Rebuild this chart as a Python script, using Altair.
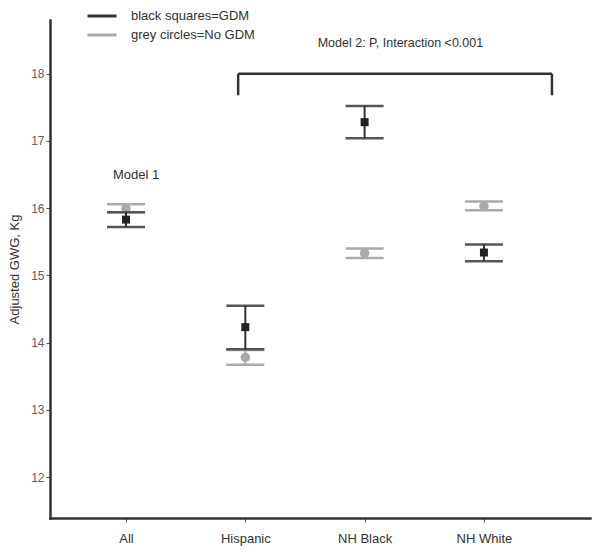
import altair as alt
import pandas as pd

categories = ["All", "Hispanic", "NH Black", "NH White"]
positions = [1, 2, 3, 4]
gdm_mean = [15.83, 14.23, 17.28, 15.34]
gdm_lo = [15.72, 13.90, 17.04, 15.21]
gdm_hi = [15.94, 14.55, 17.52, 15.46]
nogdm_mean = [16.00, 13.78, 15.33, 16.03]
nogdm_lo = [15.94, 13.67, 15.26, 15.97]
nogdm_hi = [16.06, 13.89, 15.40, 16.10]
series = ["black squares=GDM", "grey circles=No GDM"]
y_ticks = [12, 13, 14, 15, 16, 17, 18]
bracket_x = [1.94, 4.57]
bracket_y = [17.68, 18.0]
model1_text = ["Model 1"]
model1_pos = [0.89, 16.49]
model2_text = ["Model 2: P, Interaction <0.001"]
model2_pos = [3.30, 18.46]

FONT = "Liberation Sans"

gdm = pd.DataFrame({"pos": positions, "cat": categories, "mean": gdm_mean,
                    "lo": gdm_lo, "hi": gdm_hi, "series": series[0]})
nog = pd.DataFrame({"pos": positions, "cat": categories, "mean": nogdm_mean,
                    "lo": nogdm_lo, "hi": nogdm_hi, "series": series[1]})

label_expr = "[" + ",".join("'%s'" % c for c in categories) + "][datum.value-1]"
xscale = alt.Scale(domain=[0.363, 4.889], nice=False, zero=False)
yscale = alt.Scale(domain=[11.39, 18.8], nice=False, zero=False)

X = alt.X("pos:Q", scale=xscale,
          axis=alt.Axis(values=positions, labelExpr=label_expr, title=None, grid=False,
                        tickSize=4, labelPadding=10, labelFontSize=13, labelColor="#333333",
                        labelFont=FONT, domainColor="#333333", domainWidth=2.5,
                        tickColor="#555555", tickWidth=1))
Y_AX = alt.Axis(values=y_ticks, format="d", title="Adjusted GWG, Kg", grid=False, tickSize=4,
                labelPadding=2, labelFontSize=12, labelColor="#606060", labelFont=FONT,
                titleFont=FONT, titleFontSize=13, titleFontWeight="normal",
                titleColor="#333333", titlePadding=9, domainColor="#333333", domainWidth=2.5,
                tickColor="#555555", tickWidth=1)

def Yf(field):
    return alt.Y(field, scale=yscale, axis=Y_AX)

color = alt.Color("series:N", scale=alt.Scale(domain=series, range=["#333333", "#aaaaaa"]),
                  legend=alt.Legend(title=None, orient="none", legendX=36, legendY=-10,
                                    symbolType="stroke", symbolSize=841, symbolStrokeWidth=3,
                                    clipHeight=12, rowPadding=6,
                                    labelFontSize=13, labelFont=FONT, labelColor="#333333",
                                    labelOffset=13))

def layers(df, cap_color, rule_color):
    rule = alt.Chart(df).mark_rule(strokeWidth=2, color=rule_color).encode(
        x=X, y=Yf("lo:Q"), y2="hi:Q", color=color)
    cap_lo = alt.Chart(df).mark_tick(orient="horizontal", size=38, thickness=2.5,
                                     color=cap_color, opacity=1).encode(
        x=X, y=Yf("lo:Q"))
    cap_hi = alt.Chart(df).mark_tick(orient="horizontal", size=38, thickness=2.5,
                                     color=cap_color, opacity=1).encode(
        x=X, y=Yf("hi:Q"))
    return rule, cap_lo, cap_hi

g_rule, g_lo, g_hi = layers(nog, "#aaaaaa", "#aaaaaa")
b_rule, b_lo, b_hi = layers(gdm, "#555555", "#555555")

circles = alt.Chart(nog).mark_circle(size=90, color="#aaaaaa", opacity=1).encode(
    x=X, y=Yf("mean:Q"))
squares = alt.Chart(gdm).mark_point(shape="square", filled=True, size=64,
                                     color="#222222", opacity=1).encode(
    x=X, y=Yf("mean:Q"))

bdf_h = pd.DataFrame({"x": [bracket_x[0]], "x2": [bracket_x[1]], "y": [bracket_y[1]]})
bdf_v = pd.DataFrame({"x": bracket_x, "y": [bracket_y[0]] * 2, "y2": [bracket_y[1]] * 2})
br_h = alt.Chart(bdf_h).mark_rule(color="#333333", strokeWidth=2.5).encode(
    x=alt.X("x:Q", scale=xscale), x2="x2:Q", y=Yf("y:Q"))
br_v = alt.Chart(bdf_v).mark_rule(color="#333333", strokeWidth=2.5).encode(
    x=alt.X("x:Q", scale=xscale), y=Yf("y:Q"), y2="y2:Q")

t1 = alt.Chart(pd.DataFrame({"t": model1_text, "x": [model1_pos[0]], "y": [model1_pos[1]]})).mark_text(
    align="left", baseline="middle", fontSize=13, font=FONT, color="#333333").encode(
    x=alt.X("x:Q", scale=xscale), y=Yf("y:Q"), text="t:N")
t2 = alt.Chart(pd.DataFrame({"t": model2_text, "x": [model2_pos[0]], "y": [model2_pos[1]]})).mark_text(
    align="center", baseline="middle", fontSize=12.5, font=FONT, color="#333333").encode(
    x=alt.X("x:Q", scale=xscale), y=Yf("y:Q"), text="t:N")

chart = alt.layer(g_lo, g_hi, g_rule, circles, b_lo, b_hi, b_rule, squares,
                  br_h, br_v, t1, t2).properties(
    width=540, height=498,
    padding={"left": 42, "top": 12, "right": 2, "bottom": 28},
    autosize=alt.AutoSizeParams(type="none"),
).configure_view(stroke=None).configure_axis(domainCap="square")

chart.save("out.html", embed_options={"renderer": "svg", "actions": False})
